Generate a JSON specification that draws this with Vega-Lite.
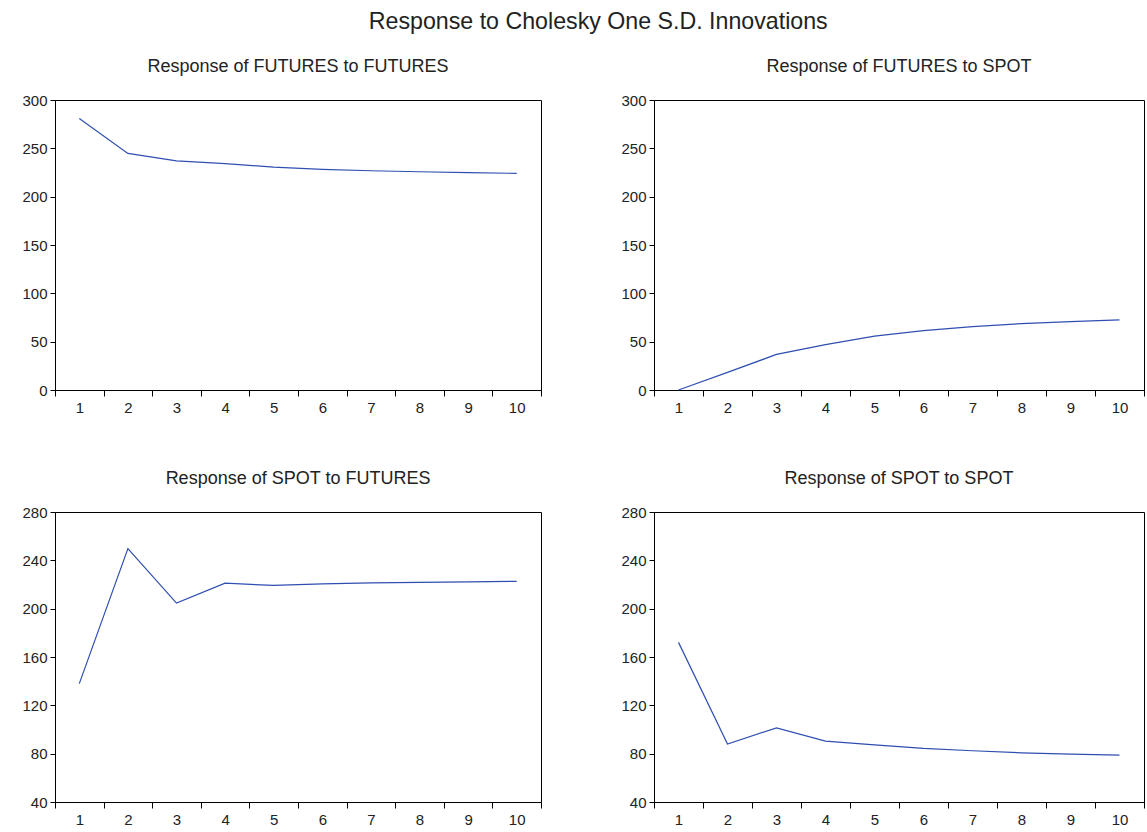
{
  "$schema": "https://vega.github.io/schema/vega-lite/v6.json",
  "padding": {"left": 21, "top": 10, "right": 2, "bottom": 5},
  "background": "white",
  "title": {"text": "Response to Cholesky One S.D. Innovations", "fontSize": 23.2, "font": "Liberation Sans", "fontWeight": "normal", "color": "#222", "anchor": "middle", "offset": 23, "dx": 15},
  "datasets": {
    "irf": [
      {"panel": "FF", "period": 1, "value": 280.8},
      {"panel": "FF", "period": 2, "value": 244.7},
      {"panel": "FF", "period": 3, "value": 237.0},
      {"panel": "FF", "period": 4, "value": 234.2},
      {"panel": "FF", "period": 5, "value": 230.6},
      {"panel": "FF", "period": 6, "value": 228.3},
      {"panel": "FF", "period": 7, "value": 226.8},
      {"panel": "FF", "period": 8, "value": 225.8},
      {"panel": "FF", "period": 9, "value": 224.9},
      {"panel": "FF", "period": 10, "value": 224.1},
      {"panel": "FS", "period": 1, "value": 0.0},
      {"panel": "FS", "period": 2, "value": 18.2},
      {"panel": "FS", "period": 3, "value": 36.8},
      {"panel": "FS", "period": 4, "value": 47.0},
      {"panel": "FS", "period": 5, "value": 55.7},
      {"panel": "FS", "period": 6, "value": 61.5},
      {"panel": "FS", "period": 7, "value": 65.6},
      {"panel": "FS", "period": 8, "value": 68.7},
      {"panel": "FS", "period": 9, "value": 70.8},
      {"panel": "FS", "period": 10, "value": 72.5},
      {"panel": "SF", "period": 1, "value": 138.0},
      {"panel": "SF", "period": 2, "value": 249.7},
      {"panel": "SF", "period": 3, "value": 204.6},
      {"panel": "SF", "period": 4, "value": 221.1},
      {"panel": "SF", "period": 5, "value": 219.2},
      {"panel": "SF", "period": 6, "value": 220.5},
      {"panel": "SF", "period": 7, "value": 221.3},
      {"panel": "SF", "period": 8, "value": 221.8},
      {"panel": "SF", "period": 9, "value": 222.2},
      {"panel": "SF", "period": 10, "value": 222.6},
      {"panel": "SS", "period": 1, "value": 172.1},
      {"panel": "SS", "period": 2, "value": 87.9},
      {"panel": "SS", "period": 3, "value": 101.4},
      {"panel": "SS", "period": 4, "value": 90.4},
      {"panel": "SS", "period": 5, "value": 87.3},
      {"panel": "SS", "period": 6, "value": 84.3},
      {"panel": "SS", "period": 7, "value": 82.4},
      {"panel": "SS", "period": 8, "value": 80.7},
      {"panel": "SS", "period": 9, "value": 79.6},
      {"panel": "SS", "period": 10, "value": 78.8}
    ]
  },
  "data": {"name": "irf"},
  "vconcat": [
    {
      "hconcat": [
        {
          "title": "Response of FUTURES to FUTURES",
          "width": 486, "height": 290,
          "transform": [{"filter": "datum.panel == 'FF'"}],
          "mark": {"type": "line", "color": "#2f4fb0", "strokeWidth": 1.2},
          "encoding": {
            "x": {"field": "period", "type": "ordinal", "bandPosition": 0.5, "scale": {"type": "band", "paddingInner": 0, "paddingOuter": 0}, "axis": {"title": null, "labelAngle": 0, "tickBand": "extent", "tickSize": 6, "labelPadding": 4}},
            "y": {"field": "value", "type": "quantitative", "scale": {"domain": [0, 300], "nice": false, "zero": false}, "axis": {"title": null, "values": [0, 50, 100, 150, 200, 250, 300]}}
          }
        },
        {
          "title": "Response of FUTURES to SPOT",
          "width": 490, "height": 290,
          "transform": [{"filter": "datum.panel == 'FS'"}],
          "mark": {"type": "line", "color": "#2f4fb0", "strokeWidth": 1.2},
          "encoding": {
            "x": {"field": "period", "type": "ordinal", "bandPosition": 0.5, "scale": {"type": "band", "paddingInner": 0, "paddingOuter": 0}, "axis": {"title": null, "labelAngle": 0, "tickBand": "extent", "tickSize": 6, "labelPadding": 4}},
            "y": {"field": "value", "type": "quantitative", "scale": {"domain": [0, 300], "nice": false, "zero": false}, "axis": {"title": null, "values": [0, 50, 100, 150, 200, 250, 300]}}
          }
        }
      ]
    },
    {
      "hconcat": [
        {
          "title": "Response of SPOT to FUTURES",
          "width": 486, "height": 290,
          "transform": [{"filter": "datum.panel == 'SF'"}],
          "mark": {"type": "line", "color": "#2f4fb0", "strokeWidth": 1.2},
          "encoding": {
            "x": {"field": "period", "type": "ordinal", "bandPosition": 0.5, "scale": {"type": "band", "paddingInner": 0, "paddingOuter": 0}, "axis": {"title": null, "labelAngle": 0, "tickBand": "extent", "tickSize": 6, "labelPadding": 4}},
            "y": {"field": "value", "type": "quantitative", "scale": {"domain": [40, 280], "nice": false, "zero": false}, "axis": {"title": null, "values": [40, 80, 120, 160, 200, 240, 280]}}
          }
        },
        {
          "title": "Response of SPOT to SPOT",
          "width": 490, "height": 290,
          "transform": [{"filter": "datum.panel == 'SS'"}],
          "mark": {"type": "line", "color": "#2f4fb0", "strokeWidth": 1.2},
          "encoding": {
            "x": {"field": "period", "type": "ordinal", "bandPosition": 0.5, "scale": {"type": "band", "paddingInner": 0, "paddingOuter": 0}, "axis": {"title": null, "labelAngle": 0, "tickBand": "extent", "tickSize": 6, "labelPadding": 4}},
            "y": {"field": "value", "type": "quantitative", "scale": {"domain": [40, 280], "nice": false, "zero": false}, "axis": {"title": null, "values": [40, 80, 120, 160, 200, 240, 280]}}
          }
        }
      ]
    }
  ],
  "spacing": 53,
  "config": {
    "concat": {"spacing": 78},
    "view": {"stroke": "#000", "strokeWidth": 1},
    "font": "Liberation Sans",
    "axis": {"grid": false, "domainColor": "#000", "tickColor": "#000", "labelColor": "#222", "labelFont": "Liberation Sans", "labelFontSize": 15, "tickSize": 5, "labelPadding": 3},
    "title": {"font": "Liberation Sans", "fontSize": 18, "fontWeight": "normal", "color": "#222", "offset": 17}
  }
}
